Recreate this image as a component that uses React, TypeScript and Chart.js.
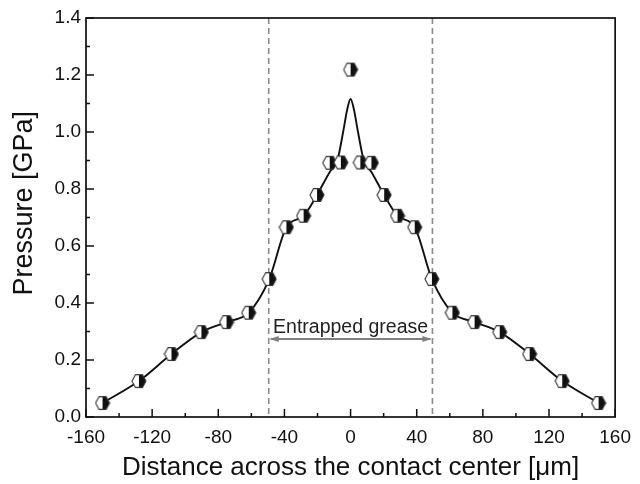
import React, { useEffect, useRef } from "react";
import { Chart, registerables } from "chart.js";

Chart.register(...registerables);

// ---- data ----
const markerX = [-150, -128, -108.3, -90.2, -75, -61.6, -49.2, -38.8, -28.4, -20.3, -12.6, -5.9, 0, 5.9, 12.6, 20.3, 28.4, 38.8, 49.2, 61.6, 75, 90.2, 108.3, 128, 150];
const markerY = [0.049, 0.126, 0.221, 0.298, 0.333, 0.366, 0.484, 0.666, 0.706, 0.779, 0.892, 0.893, 1.219, 0.893, 0.892, 0.779, 0.706, 0.666, 0.484, 0.366, 0.333, 0.298, 0.221, 0.126, 0.049];
const fitX = [-150, -128, -108.3, -90.2, -75, -61.6, -49.2, -38.8, -28.4, -20.3, -12.6, -8, -4.5, -2, 0, 2, 4.5, 8, 12.6, 20.3, 28.4, 38.8, 49.2, 61.6, 75, 90.2, 108.3, 128, 150];
const fitY = [0.049, 0.126, 0.221, 0.298, 0.333, 0.366, 0.484, 0.666, 0.706, 0.779, 0.86, 0.9, 1.0, 1.08, 1.116, 1.08, 1.0, 0.9, 0.86, 0.779, 0.706, 0.666, 0.484, 0.366, 0.333, 0.298, 0.221, 0.126, 0.049];
const xTicks = [-160, -120, -80, -40, 0, 40, 80, 120, 160];
const yTicks = [0, 0.2, 0.4, 0.6, 0.8, 1.0, 1.2, 1.4];
const regionBounds = [-49.5, 49.5];
const regionLabel = "Entrapped grease";
const arrowLevel = 0.274;
const xTitle = "Distance across the contact center [\u03bcm]";
const yTitle = "Pressure [GPa]";

const FONT = 'Arial, "Liberation Sans", sans-serif';

function makeMarker(): HTMLCanvasElement {
  const c = document.createElement("canvas");
  const s = 16;
  c.width = s;
  c.height = s;
  const g = c.getContext("2d")!;
  const cx = s / 2, cy = s / 2, rx = 7, ry = 7.4;
  const pts: [number, number][] = [];
  for (let i = 0; i < 6; i++) {
    const a = (Math.PI / 3) * i;
    pts.push([cx + rx * Math.cos(a), cy + ry * Math.sin(a)]);
  }
  g.beginPath();
  pts.forEach((p, i) => (i ? g.lineTo(p[0], p[1]) : g.moveTo(p[0], p[1])));
  g.closePath();
  g.fillStyle = "#ffffff";
  g.fill();
  g.beginPath();
  g.moveTo(cx, pts[4][1]);
  g.lineTo(pts[5][0], pts[5][1]);
  g.lineTo(pts[0][0], pts[0][1]);
  g.lineTo(pts[1][0], pts[1][1]);
  g.lineTo(cx, pts[1][1]);
  g.closePath();
  g.fillStyle = "#111111";
  g.fill();
  g.beginPath();
  pts.forEach((p, i) => (i ? g.lineTo(p[0], p[1]) : g.moveTo(p[0], p[1])));
  g.closePath();
  g.strokeStyle = "#333333";
  g.lineWidth = 1.1;
  g.stroke();
  return c;
}

const decorPlugin = {
  id: "decor",
  beforeDatasetsDraw(chart: any) {
    const { ctx, chartArea: a, scales } = chart;
    const xs = scales.x, ys = scales.y;
    ctx.save();
    ctx.strokeStyle = "#8a8a8a";
    ctx.lineWidth = 1.6;
    ctx.setLineDash([6, 4]);
    regionBounds.forEach((v) => {
      const px = xs.getPixelForValue(v);
      ctx.beginPath();
      ctx.moveTo(px, a.top);
      ctx.lineTo(px, a.bottom);
      ctx.stroke();
    });
    ctx.setLineDash([]);
    const x1 = xs.getPixelForValue(regionBounds[0]);
    const x2 = xs.getPixelForValue(regionBounds[1]);
    const y = ys.getPixelForValue(arrowLevel);
    ctx.strokeStyle = "#808080";
    ctx.fillStyle = "#808080";
    ctx.lineWidth = 2;
    ctx.beginPath();
    ctx.moveTo(x1 + 2, y);
    ctx.lineTo(x2 - 2, y);
    ctx.stroke();
    [[x1 + 1, 1], [x2 - 1, -1]].forEach(([px, d]) => {
      ctx.beginPath();
      ctx.moveTo(px, y);
      ctx.lineTo(px + d * 9, y - 3);
      ctx.lineTo(px + d * 9, y + 3);
      ctx.closePath();
      ctx.fill();
    });
    ctx.fillStyle = "#222222";
    ctx.font = `19.5px ${FONT}`;
    ctx.textAlign = "center";
    ctx.textBaseline = "alphabetic";
    ctx.fillText(regionLabel, (x1 + x2) / 2, y - 6);
    ctx.restore();
  },
  afterDraw(chart: any) {
    const { ctx, chartArea: a, scales } = chart;
    const xs = scales.x, ys = scales.y;
    ctx.save();
    ctx.strokeStyle = "#111111";
    ctx.lineWidth = 1.7;
    ctx.strokeRect(a.left, a.top, a.right - a.left, a.bottom - a.top);
    ctx.lineWidth = 1.5;
    ctx.beginPath();
    for (let i = 0; i < xTicks.length; i++) {
      const px = xs.getPixelForValue(xTicks[i]);
      ctx.moveTo(px, a.bottom);
      ctx.lineTo(px, a.bottom - 8);
      if (i < xTicks.length - 1) {
        const pm = xs.getPixelForValue((xTicks[i] + xTicks[i + 1]) / 2);
        ctx.moveTo(pm, a.bottom);
        ctx.lineTo(pm, a.bottom - 4);
      }
    }
    for (let i = 0; i < yTicks.length; i++) {
      const py = ys.getPixelForValue(yTicks[i]);
      ctx.moveTo(a.left, py);
      ctx.lineTo(a.left + 8, py);
      if (i < yTicks.length - 1) {
        const pm = ys.getPixelForValue((yTicks[i] + yTicks[i + 1]) / 2);
        ctx.moveTo(a.left, pm);
        ctx.lineTo(a.left + 4, pm);
      }
    }
    ctx.stroke();
    // y-axis title (placed slightly above the axis middle, as in the original)
    ctx.translate(32, ys.getPixelForValue(0.75));
    ctx.rotate(-Math.PI / 2);
    ctx.fillStyle = "#111111";
    ctx.font = `27px ${FONT}`;
    ctx.textAlign = "center";
    ctx.textBaseline = "alphabetic";
    ctx.fillText(yTitle, 0, 0);
    ctx.restore();
  },
};

export default function App() {
  const ref = useRef<HTMLCanvasElement>(null);
  useEffect(() => {
    document.body.style.margin = "0";
    const marker = makeMarker();
    const chart = new Chart(ref.current!, {
      type: "scatter",
      data: {
        datasets: [
          {
            label: "measured",
            data: markerX.map((x, i) => ({ x, y: markerY[i] })),
            showLine: false,
            pointStyle: marker as any,
            pointRadius: 7,
          },
          {
            label: "fit",
            data: fitX.map((x, i) => ({ x, y: fitY[i] })),
            showLine: true,
            borderColor: "#111111",
            borderWidth: 1.9,
            pointRadius: 0,
            cubicInterpolationMode: "monotone",
          } as any,
        ],
      },
      options: {
        animation: false,
        responsive: false,
        events: [],
        layout: { padding: { top: 18, right: 15, left: 0, bottom: 0 } },
        plugins: { legend: { display: false }, tooltip: { enabled: false } },
        scales: {
          x: {
            type: "linear",
            min: -160,
            max: 160,
            afterBuildTicks: (s: any) => {
              s.ticks = xTicks.map((v) => ({ value: v }));
            },
            afterFit: (s: any) => {
              s.height = 67;
            },
            grid: { display: false, drawTicks: false },
            border: { display: false },
            ticks: {
              color: "#111111",
              font: { family: FONT, size: 19 },
              padding: 9,
              maxRotation: 0,
              autoSkip: false,
              callback: (v: any) => String(v),
            },
            title: {
              display: true,
              text: xTitle,
              color: "#111111",
              font: { family: FONT, size: 26 },
              padding: { top: 0, bottom: 1 },
            },
          },
          y: {
            type: "linear",
            min: 0,
            max: 1.4,
            afterBuildTicks: (s: any) => {
              s.ticks = yTicks.map((v) => ({ value: v }));
            },
            afterFit: (s: any) => {
              s.width = 86;
            },
            grid: { display: false, drawTicks: false },
            border: { display: false },
            ticks: {
              color: "#111111",
              font: { family: FONT, size: 19 },
              padding: 5,
              autoSkip: false,
              callback: (v: any) => Number(v).toFixed(1),
            },
            title: { display: false },
          },
        },
      },
      plugins: [decorPlugin],
    });
    return () => chart.destroy();
  }, []);
  return (
    <div style={{ position: "absolute", left: 0, top: 0, width: 640, height: 484, background: "#fff" }}>
      <canvas ref={ref} width={640} height={484} style={{ display: "block" }} />
    </div>
  );
}
